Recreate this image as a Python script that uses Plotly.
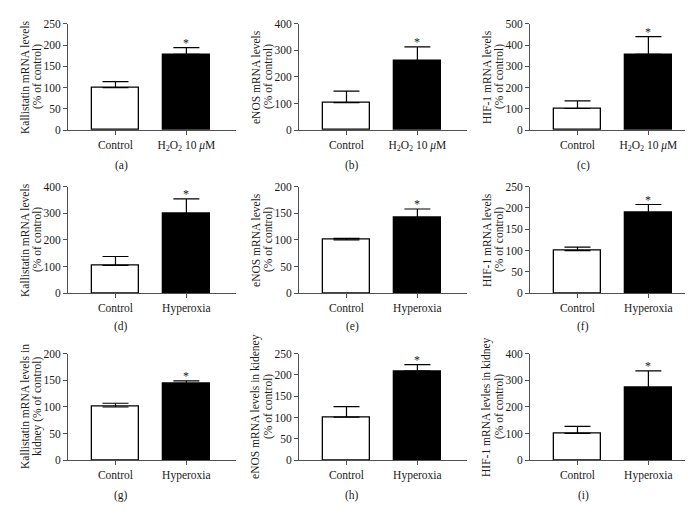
import plotly.graph_objects as go

# ---------------- data ----------------
panel_letters = ["(a)", "(b)", "(c)", "(d)", "(e)", "(f)", "(g)", "(h)", "(i)"]

categories_h2o2 = ["Control", "H<sub>2</sub>O<sub>2</sub> 10 <i>μ</i>M"]
categories_hyperoxia = ["Control", "Hyperoxia"]

kallistatin_h2o2 = [100, 178]
kallistatin_h2o2_err = [14, 16]
enos_h2o2 = [104, 261]
enos_h2o2_err = [43, 52]
hif1_h2o2 = [102, 356]
hif1_h2o2_err = [36, 84]

kallistatin_hyperoxia = [105, 299]
kallistatin_hyperoxia_err = [33, 55]
enos_hyperoxia = [100, 141]
enos_hyperoxia_err = [3, 17]
hif1_hyperoxia = [100, 189]
hif1_hyperoxia_err = [8, 19]

kallistatin_kidney = [100, 143]
kallistatin_kidney_err = [7, 6]
enos_kidney = [101, 209]
enos_kidney_err = [25, 15]
hif1_kidney = [101, 273]
hif1_kidney_err = [26, 62]

y_titles = [
    "Kallistatin mRNA levels<br>(% of control)",
    "eNOS mRNA levels<br>(% of control)",
    "HIF-1 mRNA levels<br>(% of control)",
    "Kallistatin mRNA levels<br>(% of control)",
    "eNOS mRNA levels<br>(% of control)",
    "HIF-1 mRNA levels<br>(% of control)",
    "Kallistatin mRNA levels in<br>kidney (% of control)",
    "eNOS mRNA levels in kideney<br>(% of control)",
    "HIF-1 mRNA levles in kidney<br>(% of control)",
]
y_max = [250, 400, 500, 400, 200, 250, 200, 250, 400]
y_dtick = [50, 100, 100, 100, 50, 50, 50, 50, 100]
significance = ["*"] * 9

panel_values = [kallistatin_h2o2, enos_h2o2, hif1_h2o2,
                kallistatin_hyperoxia, enos_hyperoxia, hif1_hyperoxia,
                kallistatin_kidney, enos_kidney, hif1_kidney]
panel_errors = [kallistatin_h2o2_err, enos_h2o2_err, hif1_h2o2_err,
                kallistatin_hyperoxia_err, enos_hyperoxia_err, hif1_hyperoxia_err,
                kallistatin_kidney_err, enos_kidney_err, hif1_kidney_err]
panel_categories = [categories_h2o2] * 3 + [categories_hyperoxia] * 6

# ---------------- layout geometry (pixels) ----------------
W, H = 693, 515
col_axis_x = [60, 291, 522]
col_axis_w = 168
col_start = [0, 231, 462]
title_line_x = [17, 30]
row_top = [10, 176.7, 347.7]
row_bottom = [119, 286, 457]
row_label_y = [155, 320, 493]

FONT = "Liberation Serif, Times New Roman, serif"
FS = 11.5
AXIS_COLOR = "#505050"
TEXT_COLOR = "#1a1a1a"

fig = go.Figure()
annotations = []

for i in range(9):
    r, c = divmod(i, 3)
    n = i + 1
    xa = "x" if n == 1 else f"x{n}"
    ya = "y" if n == 1 else f"y{n}"
    vals = panel_values[i]
    errs = panel_errors[i]
    cats = panel_categories[i]

    fig.add_trace(go.Bar(
        x=[0, 1], y=vals, width=0.66,
        marker=dict(color=["white", "black"], line=dict(color="black", width=1.3)),
        error_y=dict(type="data", symmetric=False, array=errs, arrayminus=[0, 0],
                     color="black", thickness=1.2, width=13),
        xaxis=xa, yaxis=ya, showlegend=False, hoverinfo="skip",
    ))

    x0 = col_axis_x[c] / W
    x1 = (col_axis_x[c] + col_axis_w) / W
    y0 = 1 - row_bottom[r] / H
    y1 = 1 - row_top[r] / H

    xkey = "xaxis" if n == 1 else f"xaxis{n}"
    ykey = "yaxis" if n == 1 else f"yaxis{n}"
    fig.update_layout(**{
        xkey: dict(domain=[x0, x1], anchor=ya, range=[-0.67, 1.7],
                   tickmode="array", tickvals=[0, 1], ticktext=cats,
                   showline=True, linecolor=AXIS_COLOR, linewidth=1,
                   ticks="outside", ticklen=4, tickcolor=AXIS_COLOR,
                   showgrid=False, zeroline=False, fixedrange=True,
                   tickfont=dict(family=FONT, size=FS, color=TEXT_COLOR)),
        ykey: dict(domain=[y0, y1], anchor=xa, range=[0, y_max[i]],
                   dtick=y_dtick[i], tick0=0,
                   showline=True, linecolor=AXIS_COLOR, linewidth=1,
                   ticks="outside", ticklen=4, tickcolor=AXIS_COLOR,
                   showgrid=False, zeroline=False, fixedrange=True,
                   tickfont=dict(family=FONT, size=FS, color=TEXT_COLOR)),
    })

    # y-axis title, one rotated annotation per line
    for k, line in enumerate(y_titles[i].split("<br>")):
        annotations.append(dict(
            text=line, textangle=-90, xref="paper", yref="paper",
            x=(col_start[c] + title_line_x[k]) / W, y=(y0 + y1) / 2,
            xanchor="center", yanchor="middle", showarrow=False,
            font=dict(family=FONT, size=FS, color=TEXT_COLOR),
        ))
    # significance marker
    annotations.append(dict(
        text=significance[i], xref=xa, yref=ya, x=1, y=vals[1] + errs[1],
        xanchor="center", yanchor="bottom", yshift=-4, showarrow=False,
        font=dict(family=FONT, size=12, color=TEXT_COLOR),
    ))
    # panel letter
    annotations.append(dict(
        text=panel_letters[i], xref="paper", yref="paper",
        x=(col_start[c] + 113) / W, y=1 - row_label_y[r] / H,
        xanchor="center", yanchor="middle", showarrow=False,
        font=dict(family=FONT, size=FS, color=TEXT_COLOR),
    ))

fig.update_layout(
    width=W, height=H,
    margin=dict(l=0, r=0, t=0, b=0),
    paper_bgcolor="white", plot_bgcolor="white",
    annotations=annotations,
    bargap=0,
)

fig.write_html("out.html")
